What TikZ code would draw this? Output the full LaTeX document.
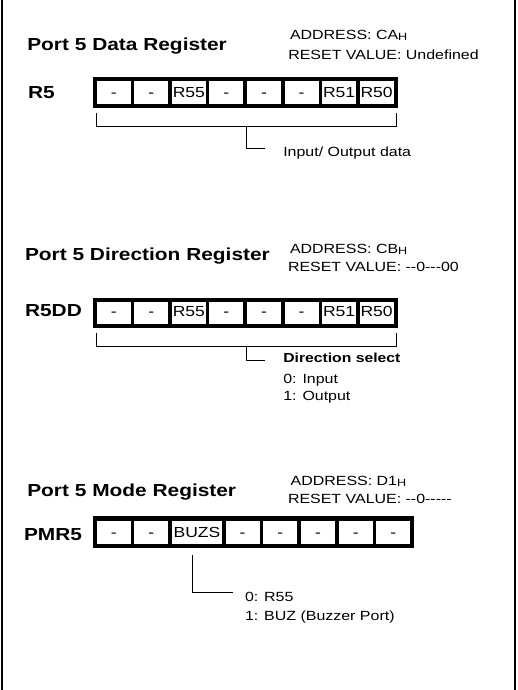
\documentclass[tikz,border=0pt]{standalone}
\usepackage{fontspec}
\setmainfont{Liberation Sans}[FakeStretch=1.2, Ligatures=TeXOff]
\newcommand{\hsub}{\raisebox{-1.3pt}{\fontsize{10.5}{12}\selectfont H}}
\begin{document}
\begin{tikzpicture}[x=1pt,y=-1pt,
  txt/.style={anchor=base west, inner sep=0pt, outer sep=0pt},
  ttl/.style={txt, font=\fontsize{17.4}{20}\selectfont\bfseries},
  info/.style={txt, font=\fontsize{13.3}{15}\selectfont},
  infob/.style={txt, font=\fontsize{13.1}{15}\selectfont\bfseries},
  regbg/.style={fill=black, draw=none, inner sep=0pt, outer sep=0pt, anchor=north west},
  cell/.style={fill=white, draw=none, inner sep=0pt, outer sep=0pt, minimum height=22.4pt,
    text height=10.5pt, text depth=0pt, font=\fontsize{14.6}{16}\selectfont},
  cellhi/.style={cell, text height=7pt},
  wire/.style={draw=black, line width=0.9pt},
  frameline/.style={draw=black, line width=2.5pt}
]
\useasboundingbox (0,0) rectangle (517,690);
% frame
\coordinate (ftl) at (1.8,0); \coordinate (fbl) at (1.8,690);
\coordinate (ftr) at (515.2,0); \coordinate (fbr) at (515.2,690);
\draw[frameline] (ftl) -- (fbl);
\draw[frameline] (ftr) -- (fbr);

% ---------- Section 1 ----------
\node[ttl] (t1) at (27.3,50.7) {Port 5 Data Register};
\node[info] (ad1) at (290,39.3) {ADDRESS: CA\hsub};
\node[info] (rv1) at (288.3,60) {RESET VALUE: Undefined};
\node[ttl] (n1) at (28,98.3) {R5};
\node[regbg, minimum width=305pt, minimum height=30.4pt] (box1) at (92.7,77.3) {};
\foreach \i/\t in {0/-,1/-,2/R55,3/-,4/-,5/-,6/R51,7/R50}
  \node[cell, minimum width=34.06pt] (a\i) at ({113.73+37.56*\i},92.5) {\t};
\coordinate (b1l) at (96,113); \coordinate (b1lb) at (96,126.7);
\coordinate (b1r) at (396.7,113); \coordinate (b1rb) at (396.7,126.7);
\coordinate (b1m) at (246.7,126.7); \coordinate (b1k) at (246.7,148.3);
\node[info] (d1) at (283.3,156.7) {Input/ Output data};
\coordinate (b1e) at (265,148.3);
\draw[wire] (b1l) -- (b1lb) -- (b1rb) -- (b1r);
\draw[wire] (b1m) -- (b1k) -- (b1e);

% ---------- Section 2 ----------
\node[ttl] (t2) at (25,260.7) {Port 5 Direction Register};
\node[info] (ad2) at (290,253.3) {ADDRESS: CB\hsub};
\node[info] (rv2) at (288,271.7) {RESET VALUE: --0---00};
\node[ttl] (n2) at (25,316) {R5DD};
\node[regbg, minimum width=305pt, minimum height=30.4pt] (box2) at (92.7,297.5) {};
\foreach \i/\t in {0/-,1/-,2/R55,3/-,4/-,5/-,6/R51,7/R50}
  \node[cellhi, minimum width=34.06pt] (c\i) at ({113.73+37.56*\i},312.7) {\t};
\coordinate (b2l) at (96,332.7); \coordinate (b2lb) at (96,346);
\coordinate (b2r) at (396.7,332.7); \coordinate (b2rb) at (396.7,346);
\coordinate (b2m) at (246.7,346); \coordinate (b2k) at (246.7,360);
\coordinate (b2e) at (265,360);
\draw[wire] (b2l) -- (b2lb) -- (b2rb) -- (b2r);
\draw[wire] (b2m) -- (b2k) -- (b2e);
\node[infob] (d2a) at (283.3,362.7) {Direction select};
\node[info] (d2b) at (283.3,383.3) {0: Input};
\node[info] (d2c) at (283.3,400) {1: Output};

% ---------- Section 3 ----------
\node[ttl] (t3) at (27.3,496) {Port 5 Mode Register};
\node[info] (ad3) at (290.7,485) {ADDRESS: D1\hsub};
\node[info] (rv3) at (288,503.3) {RESET VALUE: --0-----};
\node[ttl] (n3) at (24,540.5) {PMR5};
\node[regbg, minimum width=321.6pt, minimum height=32pt] (box3) at (92.7,516.3) {};
\foreach \i/\cx/\t in {0/113.7/-,1/151.4/-,3/242.6/-,4/280.3/-,5/318.0/-,6/355.7/-,7/393.4/-}
  \node[cell, minimum width=34pt] (p\i) at (\cx,532.3) {\t};
\node[cell, minimum width=49.7pt] (p2) at (197.0,532.3) {BUZS};
\coordinate (b3s) at (192.7,555); \coordinate (b3k) at (192.7,592.7);
\coordinate (b3e) at (233.3,592.7);
\draw[wire] (b3s) -- (b3k) -- (b3e);
\node[info] (d3a) at (245,601.7) {0: R55};
\node[info] (d3b) at (245,620) {1: BUZ (Buzzer Port)};
\end{tikzpicture}
\end{document}
